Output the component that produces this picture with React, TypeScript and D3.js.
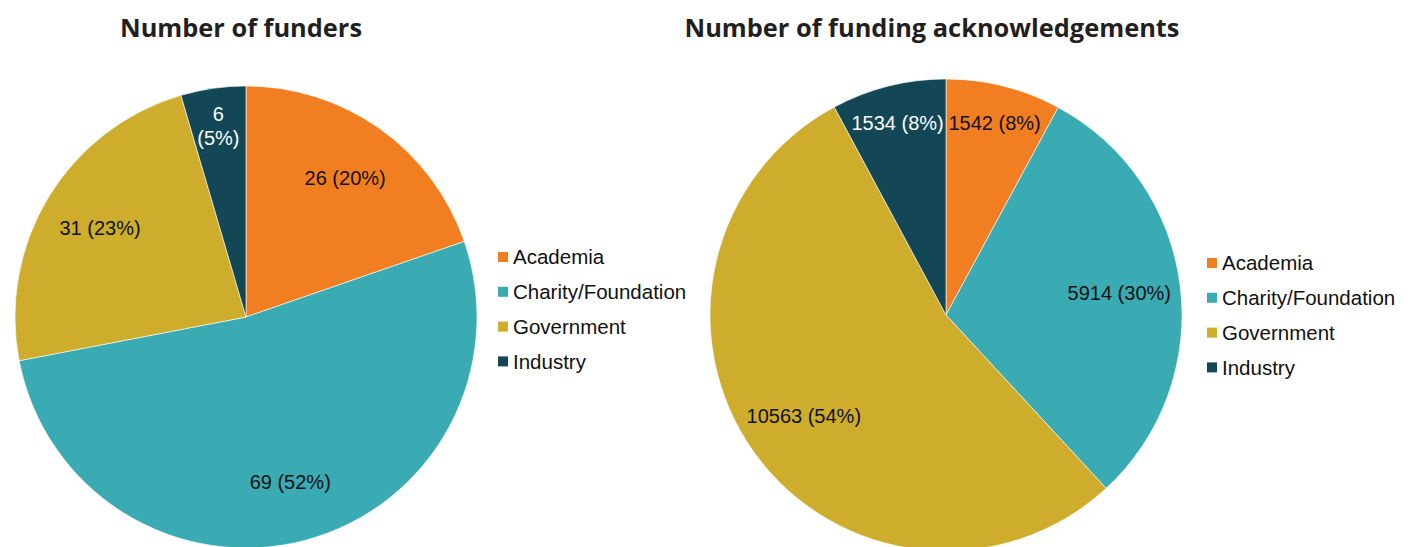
import React from "react";
import * as d3 from "d3";

const categories = ["Academia", "Charity/Foundation", "Government", "Industry"];
const fundersValues = [26, 69, 31, 6];
const fundersPct = ["20%", "52%", "23%", "5%"];
const ackValues = [1542, 5914, 10563, 1534];
const ackPct = ["8%", "30%", "54%", "8%"];
const titles = ["Number of funders", "Number of funding acknowledgements"];
const colors = ["#F27E22", "#3AABB3", "#CEAD2D", "#134756"];
const labelColors = ["#111", "#111", "#111", "#fff"];

const W = 1411;
const H = 547;

type PieProps = {
  values: number[];
  pcts: string[];
  cx: number;
  cy: number;
  r: number;
  title: string;
  titleX: number;
  legendX: number;
  legendY: number;
  splitSmall: boolean;
};

function Pie({ values, pcts, cx, cy, r, title, titleX, legendX, legendY, splitSmall }: PieProps) {
  const pie = d3.pie<number>().sort(null).value((d) => d);
  const arcs = pie(values);
  const arc = d3.arc<d3.PieArcDatum<number>>().innerRadius(0).outerRadius(r);
  const total = d3.sum(values);
  const color = d3.scaleOrdinal<string, string>().domain(categories).range(colors);
  return (
    <g>
      <text x={titleX} y={37} textAnchor="middle" fontFamily="'Open Sans', sans-serif" fontWeight={700} fontSize={25.4} fill="#231f20">
        {title}
      </text>
      <g transform={`translate(${cx},${cy})`}>
        {arcs.map((a, i) => (
          <path key={i} d={arc(a) || ""} fill={color(categories[i])} stroke="#fff" strokeWidth={0.6} />
        ))}
        {arcs.map((a, i) => {
          const small = a.value / total < 0.1;
          const lr = small ? r * 0.84 : r * 0.74;
          const la = d3.arc<d3.PieArcDatum<number>>().innerRadius(lr).outerRadius(lr);
          const [x, y] = la.centroid(a);
          const txt = `${values[i]} (${pcts[i]})`;
          if (small && splitSmall) {
            return (
              <text key={i} x={x} textAnchor="middle" fontFamily="'Liberation Sans', Arial, sans-serif" fontSize={20} fill={labelColors[i]}>
                <tspan x={x} y={y - 4}>{`${values[i]}`}</tspan>
                <tspan x={x} y={y + 20}>{`(${pcts[i]})`}</tspan>
              </text>
            );
          }
          return (
            <text key={i} x={x} y={y} dy="0.35em" textAnchor="middle" fontFamily="'Liberation Sans', Arial, sans-serif" fontSize={20} fill={labelColors[i]}>
              {txt}
            </text>
          );
        })}
      </g>
      <g transform={`translate(${legendX},${legendY})`}>
        {categories.map((c, i) => (
          <g key={c} transform={`translate(0,${i * 34.8})`}>
            <rect x={0} y={-5} width={10} height={10} fill={color(c)} />
            <text x={15} y={0} dy="0.35em" fontFamily="'Liberation Sans', Arial, sans-serif" fontSize={20.5} fill="#111">
              {c}
            </text>
          </g>
        ))}
      </g>
    </g>
  );
}

export default function App() {
  return (
    <svg width={W} height={H} style={{ position: "absolute", left: 0, top: 0, background: "#fff" }}>
      <Pie values={fundersValues} pcts={fundersPct} cx={246} cy={317} r={231} title={titles[0]} titleX={241} legendX={498} legendY={257} splitSmall={true} />
      <Pie values={ackValues} pcts={ackPct} cx={946} cy={315} r={236} title={titles[1]} titleX={932} legendX={1207} legendY={263} splitSmall={false} />
    </svg>
  );
}
